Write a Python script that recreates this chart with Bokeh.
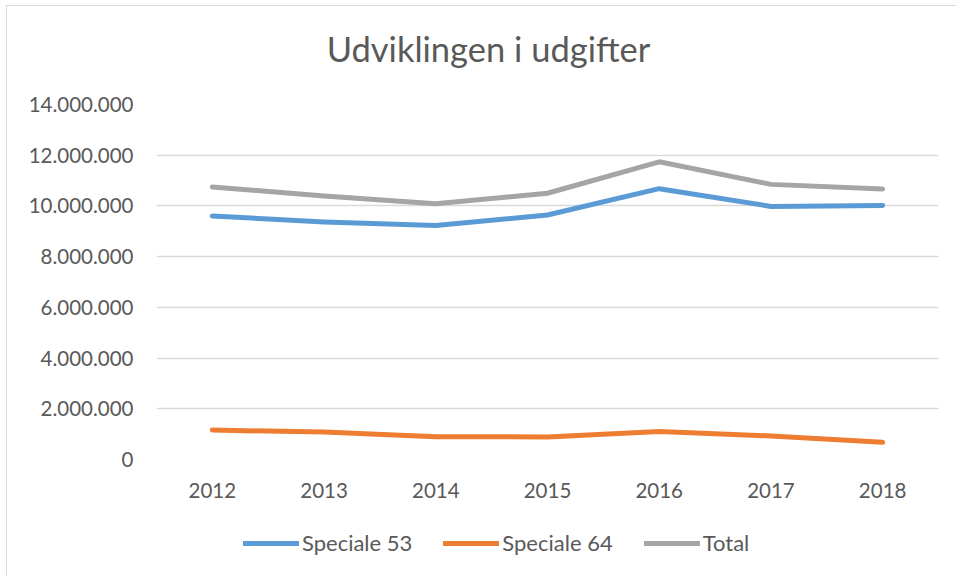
from bokeh.plotting import figure
from bokeh.models import FactorRange, Range1d, FixedTicker, Legend, LegendItem, Label
from bokeh.layouts import column
from bokeh.embed import file_html
from bokeh.resources import INLINE

years = ["2012", "2013", "2014", "2015", "2016", "2017", "2018"]
speciale53 = [9600000, 9370000, 9230000, 9640000, 10680000, 9980000, 10020000]
speciale64 = [1160000, 1080000, 900000, 890000, 1100000, 930000, 680000]
total = [10750000, 10390000, 10090000, 10500000, 11740000, 10850000, 10670000]
y_ticks = [0, 2000000, 4000000, 6000000, 8000000, 10000000, 12000000, 14000000]
y_tick_labels = ["0", "2.000.000", "4.000.000", "6.000.000", "8.000.000",
                 "10.000.000", "12.000.000", "14.000.000"]
series_names = ["Speciale 53", "Speciale 64", "Total"]
colors = ["#5B9BD5", "#ED7D31", "#A5A5A5"]
title_text = "Udviklingen i udgifter"

FONT = "Lato"
TXT = "#595959"


def strip(height):
    f = figure(width=949, height=height, output_backend="svg", toolbar_location=None,
               min_border_left=0, min_border_right=0, min_border_top=0, min_border_bottom=0)
    f.axis.visible = False
    f.grid.visible = False
    f.outline_line_color = None
    f.border_fill_color = "white"
    f.background_fill_color = "white"
    return f


# title strip (frame aligned with the chart frame; ranges are pixel offsets)
pt = strip(80)
pt.x_range = Range1d(156, 938)
pt.y_range = Range1d(0, 80)
pt.add_layout(Label(x=488, y=38, text=title_text, text_align="center",
                    text_baseline="alphabetic", text_font=FONT,
                    text_font_size="34.5px", text_color=TXT))

p = figure(x_range=FactorRange(*years), y_range=Range1d(0, 14000000),
           width=949, height=440, output_backend="svg", toolbar_location=None,
           min_border_left=149, min_border_right=18, min_border_top=18,
           min_border_bottom=67)
p.outline_line_color = None
p.background_fill_color = "white"
p.border_fill_color = "white"

p.xgrid.grid_line_color = None
p.ygrid.grid_line_color = "#D9D9D9"
p.ygrid.grid_line_width = 1.3
p.yaxis.ticker = FixedTicker(ticks=y_ticks)
p.yaxis.major_label_overrides = {t: l for t, l in zip(y_ticks, y_tick_labels)}

for ax in (p.xaxis[0], p.yaxis[0]):
    ax.axis_line_color = None
    ax.major_tick_line_color = None
    ax.minor_tick_line_color = None
    ax.major_label_text_font = FONT
    ax.major_label_text_font_size = "20.5px"
    ax.major_label_text_color = TXT
p.yaxis.major_label_standoff = 17
p.xaxis.major_label_standoff = 17

for vals, c in zip([speciale53, speciale64, total], colors):
    p.line(years, vals, line_color=c, line_width=5,
           line_cap="round", line_join="round")

# legend strip below the chart (swatch renderers hold no visible data)
nan = float("nan")
pl = strip(50)
pl.x_range = Range1d(0, 1)
pl.y_range = Range1d(0, 1)
leg_renderers = [pl.line(x=[nan], y=[nan], line_color=c, line_width=5, line_cap="round")
                 for c in colors]
legend = Legend(items=[LegendItem(label=n, renderers=[r]) for n, r in zip(series_names, leg_renderers)],
                orientation="horizontal", location=(87, 20))
legend.label_text_font = FONT
legend.label_text_font_size = "22px"
legend.label_text_color = TXT
legend.glyph_width = 56
legend.label_standoff = 3
legend.spacing = 31
legend.padding = 0
legend.margin = 0
legend.border_line_color = None
legend.background_fill_alpha = 0
pl.add_layout(legend, "center")

root = column(pt, p, pl, spacing=0, margin=(6, 0, 0, 7))
root.styles = {"outline": "1px solid #d9d9d9"}

open("out.html", "w").write(file_html(root, INLINE))
